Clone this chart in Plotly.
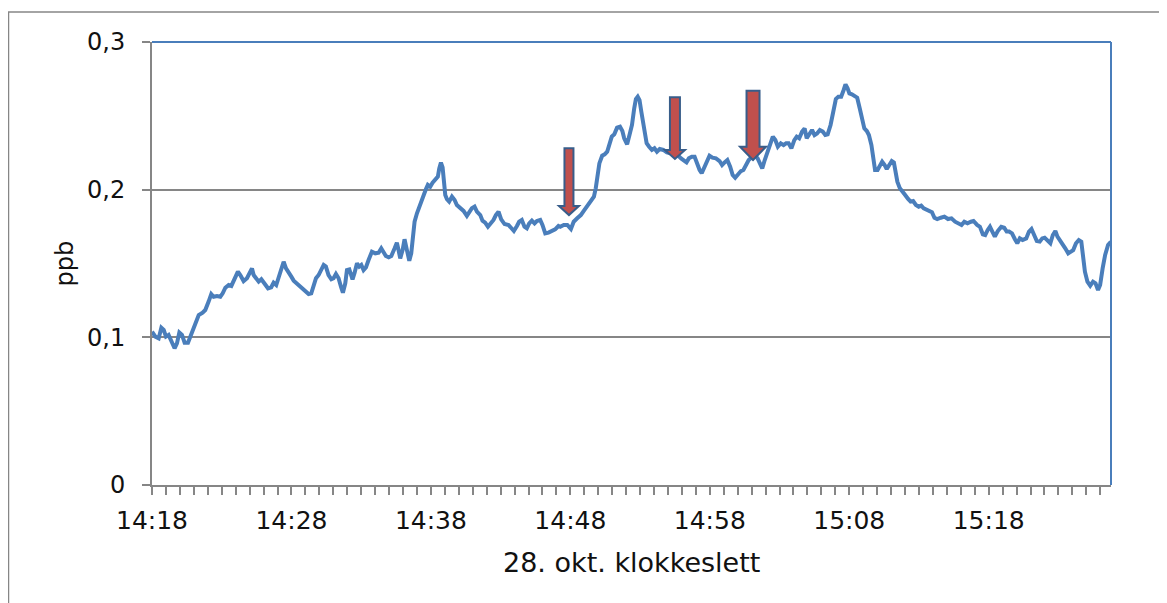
import plotly.graph_objects as go

# minutes after 14:18
minutes = [0.00, 0.24, 0.48, 0.67, 0.84, 1.00, 1.19, 1.39, 1.62, 1.79, 1.96, 2.15, 2.34, 2.58, 2.75, 2.92,
           3.11, 3.35, 3.63, 3.82, 4.06, 4.25, 4.42, 4.66, 4.90, 5.07, 5.26, 5.50, 5.69, 5.85, 6.02, 6.16,
           6.33, 6.57, 6.81, 7.05, 7.17, 7.29, 7.46, 7.65, 7.84, 8.08, 8.32, 8.55, 8.72, 8.91, 9.08, 9.27,
           9.44, 9.61, 9.80, 9.99, 10.16, 10.39, 10.56, 10.75, 10.99, 11.23, 11.42, 11.59, 11.76, 11.95,
           12.14, 12.31, 12.47, 12.66, 12.86, 13.02, 13.19, 13.38, 13.55, 13.69, 13.86, 13.98, 14.15, 14.29,
           14.38, 14.53, 14.70, 14.86, 15.01, 15.17, 15.34, 15.53, 15.77, 16.01, 16.25, 16.44, 16.61, 16.77,
           16.97, 17.16, 17.40, 17.56, 17.68, 17.80, 17.97, 18.11, 18.28, 18.45, 18.59, 18.71, 18.83, 19.00,
           19.16, 19.35, 19.55, 19.64, 19.78, 19.95, 20.12, 20.31, 20.50, 20.60, 20.72, 20.84, 20.96, 21.03,
           21.15, 21.31, 21.51, 21.70, 21.86, 22.10, 22.34, 22.58, 22.75, 22.94, 23.13, 23.30, 23.54, 23.70,
           23.89, 24.09, 24.25, 24.49, 24.66, 24.85, 25.04, 25.28, 25.57, 25.76, 25.95, 26.17, 26.33, 26.52,
           26.71, 26.88, 27.05, 27.24, 27.43, 27.60, 27.84, 28.00, 28.20, 28.43, 28.67, 28.91, 29.15,
           29.27, 29.53, 29.78, 30.04, 30.24, 30.49, 30.75, 31.00, 31.26, 31.51, 31.69, 31.82, 31.95, 32.08,
           32.28, 32.46, 32.64, 32.79, 32.97, 33.15, 33.35, 33.56, 33.73, 33.86, 34.07, 34.24, 34.42, 34.58,
           34.70, 34.83, 34.96, 35.09, 35.26, 35.39, 35.47, 35.65, 35.85, 36.03, 36.21, 36.41, 36.67, 36.92,
           37.18, 37.43, 37.69, 37.94, 38.15, 38.33, 38.50, 38.71, 38.91, 39.09, 39.27, 39.42, 39.60, 39.78,
           39.98, 40.19, 40.44, 40.70, 40.88, 41.06, 41.26, 41.46, 41.64, 41.82, 42.03, 42.23, 42.41, 42.59,
           42.79, 43.05, 43.25, 43.43, 43.61, 43.76, 43.94, 44.12, 44.32, 44.52, 44.70, 44.88, 45.09, 45.29,
           45.47, 45.65, 45.85, 46.06, 46.23, 46.41, 46.62, 46.80, 46.95, 47.13, 47.33, 47.51, 47.69, 47.89,
           48.10, 48.28, 48.45, 48.66, 48.86, 49.04, 49.22, 49.42, 49.60, 49.73, 49.88, 50.01, 50.19, 50.39,
           50.57, 50.75, 50.90, 51.08, 51.26, 51.41, 51.59, 51.72, 51.85, 52.03, 52.18, 52.36, 52.54, 52.69,
           52.87, 53.05, 53.20, 53.30, 53.45, 53.63, 53.81, 54.01, 54.22, 54.40, 54.58, 54.78, 54.98, 55.16,
           55.34, 55.55, 55.75, 55.93, 56.11, 56.31, 56.57, 56.82, 57.08, 57.33, 57.59, 57.84, 58.05, 58.25,
           58.48, 58.73, 58.91, 59.17, 59.37, 59.58, 59.75, 59.93, 60.09, 60.26, 60.44, 60.65, 60.90, 61.11,
           61.29, 61.46, 61.67, 61.87, 62.05, 62.23, 62.43, 62.69, 62.89, 63.07, 63.25, 63.45, 63.66, 63.84,
           64.01, 64.22, 64.42, 64.60, 64.78, 64.93, 65.11, 65.29, 65.49, 65.70, 65.88, 66.06, 66.26, 66.46,
           66.64, 66.77, 66.90, 67.08, 67.28, 67.48, 67.66, 67.84, 67.99, 68.17, 68.35, 68.56, 68.76]

ppb = [0.1038, 0.1005, 0.0993, 0.1065, 0.1050, 0.1005, 0.1016, 0.0971, 0.0926, 0.0959, 0.1032, 0.1016,
       0.0964, 0.0964, 0.1005, 0.1032, 0.1095, 0.1151, 0.1167, 0.1185, 0.1242, 0.1293, 0.1275, 0.1280,
       0.1275, 0.1298, 0.1336, 0.1354, 0.1348, 0.1377, 0.1415, 0.1445, 0.1422, 0.1381, 0.1400, 0.1445,
       0.1467, 0.1422, 0.1400, 0.1377, 0.1393, 0.1361, 0.1332, 0.1339, 0.1370, 0.1354, 0.1400, 0.1467,
       0.1512, 0.1467, 0.1433, 0.1411, 0.1384, 0.1366, 0.1348, 0.1332, 0.1316, 0.1293, 0.1298, 0.1343,
       0.1400, 0.1422, 0.1467, 0.1490, 0.1479, 0.1422, 0.1393, 0.1400, 0.1429, 0.1400, 0.1343, 0.1302,
       0.1366, 0.1456, 0.1460, 0.1411, 0.1393, 0.1438, 0.1501, 0.1479, 0.1490, 0.1456, 0.1474, 0.1524,
       0.1580, 0.1569, 0.1573, 0.1603, 0.1580, 0.1551, 0.1542, 0.1551, 0.1603, 0.1641, 0.1591, 0.1535,
       0.1591, 0.1664, 0.1591, 0.1519, 0.1569, 0.1704, 0.1783, 0.1840, 0.1885, 0.1930, 0.1975, 0.2002,
       0.2032, 0.2020, 0.2047, 0.2070, 0.2088, 0.2144, 0.2183, 0.2151, 0.2065, 0.1964, 0.1935, 0.1919,
       0.1953, 0.1930, 0.1896, 0.1874, 0.1856, 0.1822, 0.1851, 0.1874, 0.1885, 0.1851, 0.1828, 0.1790,
       0.1777, 0.1749, 0.1767, 0.1795, 0.1828, 0.1851, 0.1799, 0.1767, 0.1761, 0.1745, 0.1720, 0.1754,
       0.1783, 0.1795, 0.1749, 0.1738, 0.1772, 0.1790, 0.1772, 0.1788, 0.1795, 0.1761, 0.1704, 0.1709,
       0.1722, 0.1731, 0.1754,
       0.1749, 0.1761, 0.1761, 0.1734, 0.1783, 0.1806, 0.1828, 0.1862, 0.1896, 0.1923, 0.1953, 0.2009,
       0.2099, 0.2178, 0.2230, 0.2239, 0.2257, 0.2302, 0.2359, 0.2375, 0.2420, 0.2427, 0.2397, 0.2348,
       0.2307, 0.2370, 0.2438, 0.2551, 0.2614, 0.2630, 0.2607, 0.2528, 0.2438, 0.2393, 0.2314, 0.2291,
       0.2269, 0.2280, 0.2257, 0.2275, 0.2269, 0.2253, 0.2246, 0.2239, 0.2235, 0.2212, 0.2201, 0.2185,
       0.2212, 0.2223, 0.2223, 0.2172, 0.2133, 0.2111, 0.2149, 0.2190, 0.2230, 0.2217, 0.2212, 0.2194,
       0.2167, 0.2185, 0.2201, 0.2156, 0.2099, 0.2081, 0.2104, 0.2126, 0.2133, 0.2167, 0.2201, 0.2223,
       0.2230, 0.2212, 0.2167, 0.2144, 0.2201, 0.2257, 0.2302, 0.2359, 0.2336, 0.2291, 0.2314, 0.2302,
       0.2314, 0.2314, 0.2280, 0.2336, 0.2359, 0.2348, 0.2393, 0.2415, 0.2348, 0.2381, 0.2404, 0.2370,
       0.2381, 0.2404, 0.2393, 0.2370, 0.2375, 0.2438, 0.2528, 0.2614, 0.2630, 0.2630, 0.2675, 0.2713,
       0.2686, 0.2652, 0.2646, 0.2637, 0.2623, 0.2551, 0.2472, 0.2415, 0.2397, 0.2370, 0.2302, 0.2190,
       0.2133, 0.2133, 0.2156, 0.2190, 0.2167, 0.2140, 0.2167, 0.2194, 0.2185, 0.2122, 0.2054, 0.2009,
       0.1982, 0.1964, 0.1937, 0.1919, 0.1923, 0.1896, 0.1885, 0.1892, 0.1874, 0.1862, 0.1856, 0.1847,
       0.1810, 0.1801, 0.1810, 0.1817, 0.1801, 0.1806, 0.1783, 0.1772, 0.1761, 0.1783, 0.1772, 0.1783,
       0.1788, 0.1761, 0.1749, 0.1698, 0.1693, 0.1727, 0.1749, 0.1716, 0.1682, 0.1720, 0.1749, 0.1743,
       0.1716, 0.1716, 0.1704, 0.1666, 0.1637, 0.1670, 0.1659, 0.1670, 0.1716, 0.1734, 0.1693, 0.1652,
       0.1648, 0.1670, 0.1675, 0.1652, 0.1637, 0.1693, 0.1720, 0.1682, 0.1659, 0.1625, 0.1603, 0.1569,
       0.1580, 0.1591, 0.1637, 0.1659, 0.1648, 0.1524, 0.1445, 0.1377, 0.1350, 0.1377, 0.1366, 0.1321,
       0.1354, 0.1467, 0.1558, 0.1625, 0.1648]

tick_minutes = list(range(0, 69))
label_minutes = [0, 10, 20, 30, 40, 50, 60]
label_texts = ["14:18", "14:28", "14:38", "14:48", "14:58", "15:08", "15:18"]
y_ticks = [0, 0.1, 0.2, 0.3]
y_labels = ["0", "0,1", "0,2", "0,3"]

# arrow markers (minutes after 14:18, ppb)
arrow_minutes = [29.9, 37.5, 43.1]
arrow_top = [0.228, 0.2625, 0.267]
arrow_head_base = [0.189, 0.2269, 0.2291]
arrow_tip = [0.1828, 0.2208, 0.2201]
arrow_shaft_px = [9, 10, 13]
arrow_head_px = [20, 20, 26]

ticktext = [label_texts[label_minutes.index(m)] if m in label_minutes else "" for m in tick_minutes]

FONT = "DejaVu Sans"
GRAY = "#868686"
BLUE = "#4a7ebb"

# page body has an 8px margin: plot area sits at x 152..1111, y 42..485 on the page
W, H = 1159, 595
ML, MR, MT, MB = 144, 56, 34, 118
PW = W - ML - MR
PH = H - MT - MB

fig = go.Figure()
fig.add_trace(go.Scatter(x=minutes, y=ppb, mode="lines",
                         line=dict(color=BLUE, width=4), showlegend=False, hoverinfo="skip"))

shapes = []
for xm, top, base, tip, sw, hw in zip(arrow_minutes, arrow_top, arrow_head_base, arrow_tip,
                                       arrow_shaft_px, arrow_head_px):
    s, h = sw / 2, hw / 2
    path = (f"M {-s},{top} L {s},{top} L {s},{base} L {h},{base} L 0,{tip} "
            f"L {-h},{base} L {-s},{base} Z")
    shapes.append(dict(type="path", xref="x", yref="y", xsizemode="pixel", xanchor=xm,
                       path=path, fillcolor="#c0504d", line=dict(color="#385d8a", width=2),
                       layer="above"))

# plot-area border (top/right) and outer chart border
shapes.append(dict(type="line", xref="paper", yref="paper", x0=0, x1=1, y0=1, y1=1,
                   line=dict(color=BLUE, width=2)))
shapes.append(dict(type="line", xref="paper", yref="paper", x0=1, x1=1, y0=0, y1=1,
                   line=dict(color=BLUE, width=2)))
shapes.append(dict(type="rect", xref="paper", yref="paper",
                   x0=-(ML - 0.5) / PW, x1=(PW + MR + 20) / PW,
                   y0=-(MB + 20) / PH, y1=1 + (MT - 4) / PH,
                   line=dict(color=GRAY, width=1.5), layer="below"))

fig.update_layout(
    width=W, height=H,
    margin=dict(l=ML, r=MR, t=MT, b=MB),
    paper_bgcolor="white", plot_bgcolor="white",
    font=dict(family=FONT, color="#111111"),
    shapes=shapes,
    xaxis=dict(range=[0, 68.77], tickmode="array", tickvals=tick_minutes, ticktext=ticktext,
               ticks="outside", ticklen=8, tickwidth=1.5, tickcolor=GRAY,
               showline=True, linecolor=GRAY, linewidth=2, showgrid=False, zeroline=False,
               tickfont=dict(family=FONT, size=25, color="#111111"), ticklabelstandoff=4),
    yaxis=dict(range=[0, 0.3], tickmode="array", tickvals=y_ticks, ticktext=y_labels,
               ticks="outside", ticklen=8, tickwidth=1.5, tickcolor=GRAY,
               showline=True, linecolor=GRAY, linewidth=2, showgrid=True, gridcolor=GRAY,
               gridwidth=1.5, zeroline=False,
               tickfont=dict(family=FONT, size=24, color="#111111"), ticklabelstandoff=12),
    annotations=[
        dict(text="28. okt. klokkeslett", xref="paper", yref="paper", x=0.5, y=-(562 - 485) / PH,
             xanchor="center", yanchor="middle", showarrow=False,
             font=dict(family=FONT, size=27, color="#111111")),
        dict(text="ppb", xref="paper", yref="paper", x=-(152 - 64) / PW, y=0.5,
             xanchor="center", yanchor="middle", showarrow=False, textangle=-90,
             font=dict(family=FONT, size=24, color="#111111")),
    ],
)

fig.write_html("out.html")
